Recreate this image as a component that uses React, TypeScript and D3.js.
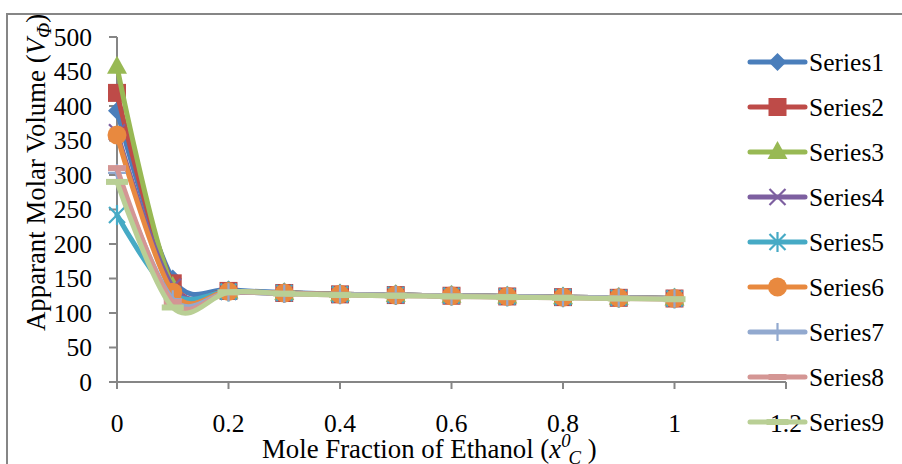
import React from "react";
import * as d3 from "d3";

const xValues = [0, 0.1, 0.2, 0.3, 0.4, 0.5, 0.6, 0.7, 0.8, 0.9, 1.0];
const series1 = [393, 150, 134, 130, 127, 126, 125, 124, 123, 122, 121];
const series2 = [419, 143, 132, 129, 127, 126, 125, 124, 123, 122, 121];
const series3 = [457, 138, 131, 129, 127, 126, 125, 124, 123, 122, 121];
const series4 = [362, 138, 131, 129, 127, 126, 125, 124, 123, 122, 121];
const series5 = [242, 127, 131, 129, 127, 126, 125, 124, 123, 122, 121];
const series6 = [358, 130, 131, 129, 127, 126, 125, 124, 123, 122, 121];
const series7 = [303, 120, 130, 128, 127, 126, 125, 124, 123, 122, 121];
const series8 = [310, 116, 130, 128, 126, 125, 124, 123, 122, 121, 120];
const series9 = [290, 108, 130, 128, 126, 125, 124, 123, 122, 121, 120];

const seriesNames = ["Series1", "Series2", "Series3", "Series4", "Series5", "Series6", "Series7", "Series8", "Series9"];
const seriesData = [series1, series2, series3, series4, series5, series6, series7, series8, series9];
const seriesColors = ["#4A7EBB", "#BE4B48", "#98B954", "#7D5FA0", "#46AAC5", "#E8893F", "#92A9CF", "#D49694", "#B9CF95"];
const seriesMarkers = ["diamond", "square", "triangle", "x", "star", "circle", "plus", "dash", "longdash"];

const yTicks = [0, 50, 100, 150, 200, 250, 300, 350, 400, 450, 500];
const xTicks = [0, 0.2, 0.4, 0.6, 0.8, 1, 1.2];

const FONT = "Liberation Serif";
const FS = 25.5;
const TFS = 26.8;
const AXIS = "#868686";

function Marker({ type, cx, cy, color }: { type: string; cx: number; cy: number; color: string }) {
  switch (type) {
    case "diamond":
      return <path d={`M${cx},${cy - 9}L${cx + 9},${cy}L${cx},${cy + 9}L${cx - 9},${cy}Z`} fill={color} />;
    case "square":
      return <rect x={cx - 9} y={cy - 9} width={18} height={18} fill={color} />;
    case "triangle":
      return <path d={`M${cx},${cy - 11}L${cx + 10},${cy + 7}L${cx - 10},${cy + 7}Z`} fill={color} />;
    case "x":
      return (
        <path d={`M${cx - 8},${cy - 8}L${cx + 8},${cy + 8}M${cx - 8},${cy + 8}L${cx + 8},${cy - 8}`} stroke={color} strokeWidth={2.2} />
      );
    case "star":
      return (
        <path
          d={`M${cx - 8},${cy - 8}L${cx + 8},${cy + 8}M${cx - 8},${cy + 8}L${cx + 8},${cy - 8}M${cx},${cy - 10}L${cx},${cy + 10}`}
          stroke={color}
          strokeWidth={2.2}
        />
      );
    case "circle":
      return <circle cx={cx} cy={cy} r={9.5} fill={color} />;
    case "plus":
      return <path d={`M${cx - 9},${cy}L${cx + 9},${cy}M${cx},${cy - 9}L${cx},${cy + 9}`} stroke={color} strokeWidth={2.2} />;
    case "dash":
      return <rect x={cx - 9} y={cy - 3} width={18} height={6} fill={color} />;
    case "longdash":
      return <rect x={cx - 11} y={cy - 3} width={22} height={6} fill={color} />;
    default:
      return null;
  }
}

export default function App() {
  const width = 902;
  const height = 464;
  const x = d3.scaleLinear().domain([0, 1.2]).range([117, 786]);
  const y = d3.scaleLinear().domain([0, 500]).range([382, 37]);

  const line = d3
    .line<number>()
    .x((_, i) => x(xValues[i]))
    .y((d) => y(d))
    .curve(d3.curveCardinal.tension(0));

  const legendX0 = 750;
  const legendX1 = 805;
  const legendY0 = 62;
  const legendStep = 45;

  return (
    <svg width={width} height={height} style={{ position: "absolute", left: 0, top: 0, background: "#fff" }}>
      <rect x={7} y={14} width={900} height={470} fill="#fff" stroke={AXIS} strokeWidth={2} />

      {/* y axis */}
      <line x1={x(0)} x2={x(0)} y1={y(500)} y2={y(0)} stroke={AXIS} strokeWidth={2} />
      {yTicks.map((t) => (
        <g key={"y" + t}>
          <line x1={x(0) - 8} x2={x(0)} y1={y(t)} y2={y(t)} stroke={AXIS} strokeWidth={2} />
          <text x={92} y={y(t)} dy="0.34em" textAnchor="end" fontSize={FS} fontFamily={FONT} fill="#000">
            {t}
          </text>
        </g>
      ))}

      {/* x axis */}
      <line x1={x(0)} x2={x(1.2)} y1={y(0)} y2={y(0)} stroke={AXIS} strokeWidth={2} />
      {xTicks.map((t) => (
        <g key={"x" + t}>
          <line x1={x(t)} x2={x(t)} y1={y(0)} y2={y(0) + 7} stroke={AXIS} strokeWidth={2} />
          <text x={x(t)} y={432} textAnchor="middle" fontSize={FS} fontFamily={FONT} fill="#000">
            {t}
          </text>
        </g>
      ))}

      {/* series */}
      {seriesData.map((data, si) => (
        <g key={"s" + si}>
          <path
            d={line(data) || ""}
            fill="none"
            stroke={seriesColors[si]}
            strokeWidth={5}
            strokeLinejoin="round"
            strokeLinecap="round"
          />
          {data.map((v, i) => (
            <Marker key={i} type={seriesMarkers[si]} cx={x(xValues[i])} cy={y(v)} color={seriesColors[si]} />
          ))}
        </g>
      ))}

      {/* axis titles */}
      <text transform="translate(45,331) rotate(-90)" fontSize={TFS} fontFamily={FONT} fill="#000">
        Apparant Molar Volume (
        <tspan fontStyle="italic">V</tspan>
        <tspan fontStyle="italic" fontSize={TFS * 0.75} dy={6}>
          Φ
        </tspan>
        <tspan dy={-6}>)</tspan>
      </text>
      <text x={262} y={458} fontSize={TFS} fontFamily={FONT} fill="#000">
        Mole Fraction of Ethanol (
        <tspan fontStyle="italic">x</tspan>
        <tspan fontStyle="italic" fontSize={TFS * 0.7} dy={-11}>
          0
        </tspan>
        <tspan fontStyle="italic" fontSize={TFS * 0.7} dy={17} dx={-2}>
          C
        </tspan>
        <tspan dy={-6}> )</tspan>
      </text>

      {/* legend */}
      {seriesNames.map((name, si) => {
        const cy = legendY0 + si * legendStep;
        return (
          <g key={"l" + si}>
            <line x1={legendX0} x2={legendX1} y1={cy} y2={cy} stroke={seriesColors[si]} strokeWidth={5} strokeLinecap="round" />
            <Marker type={seriesMarkers[si]} cx={(legendX0 + legendX1) / 2} cy={cy} color={seriesColors[si]} />
            <text x={809} y={cy + 9} fontSize={FS} fontFamily={FONT} fill="#000">
              {name}
            </text>
          </g>
        );
      })}
    </svg>
  );
}
